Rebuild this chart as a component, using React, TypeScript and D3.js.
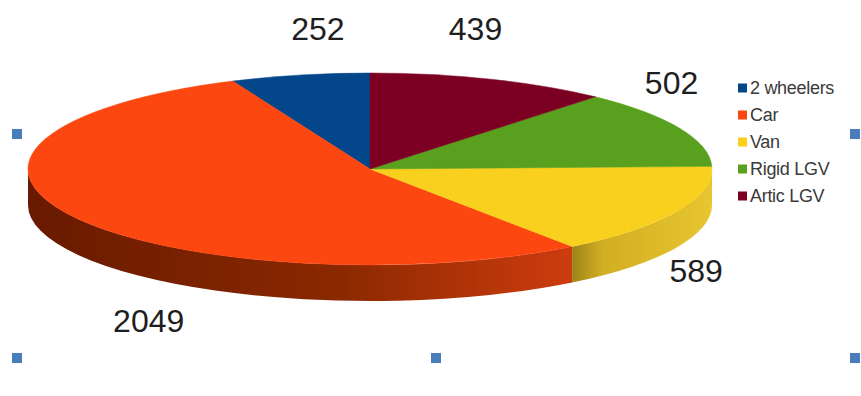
import React from "react";
import * as d3 from "d3";

const categories = ["2 wheelers", "Car", "Van", "Rigid LGV", "Artic LGV"];
const values = [252, 2049, 589, 502, 439];
const colors = ["#03478a", "#fc4711", "#f9d01e", "#58a01e", "#7b0022"];

const W = 861;
const H = 396;
const cx = 370;
const cy = 169;
const rx = 342;
const ry = 96;
const depth = 36;

// label nudges relative to slice mid-point on the rim (layout, not data)
const labelNudge: [number, number][] = [
  [18, -35],
  [75, 115],
  [19, 71],
  [-8, -34],
  [-15, -39],
];

function pt(a: number, dy = 0): [number, number] {
  return [cx + rx * Math.sin(a), cy - ry * Math.cos(a) + dy];
}

export default function App() {
  const pie = d3
    .pie<number>()
    .sort(null)
    .startAngle(0)
    .endAngle(-2 * Math.PI)
    .value((d) => d);
  const arcs = pie(values);

  const topPath = (a0: number, a1: number) => {
    const p0 = pt(a0);
    const p1 = pt(a1);
    const large = Math.abs(a1 - a0) > Math.PI ? 1 : 0;
    return `M${cx},${cy}L${p0[0]},${p0[1]}A${rx},${ry} 0 ${large} 0 ${p1[0]},${p1[1]}Z`;
  };

  const frontLo = -1.5 * Math.PI;
  const frontHi = -0.5 * Math.PI;
  const sides = arcs
    .map((a, i) => {
      const lo = Math.max(Math.min(a.startAngle, a.endAngle), frontLo);
      const hi = Math.min(Math.max(a.startAngle, a.endAngle), frontHi);
      if (hi <= lo) return null;
      const t1 = pt(hi);
      const t0 = pt(lo);
      const b0 = pt(lo, depth);
      const b1 = pt(hi, depth);
      const d = `M${t1[0]},${t1[1]}A${rx},${ry} 0 0 0 ${t0[0]},${t0[1]}L${b0[0]},${b0[1]}A${rx},${ry} 0 0 1 ${b1[0]},${b1[1]}Z`;
      return { d, i, lo, hi };
    })
    .filter(Boolean) as { d: string; i: number; lo: number; hi: number }[];

  const sideStops: Record<number, [number, string][]> = {
    1: [
      [0, "#681a00"],
      [0.45, "#8a2800"],
      [0.79, "#cc3c0e"],
    ],
    2: [
      [0.79, "#967f16"],
      [0.84, "#d2ae22"],
      [1, "#e8c630"],
    ],
  };

  const handleColor = "#4a7dbb";
  const frame = { x0: 17, x1: 855, ymid: 134, y1: 358 };
  const handles: [number, number][] = [
    [frame.x0, frame.ymid],
    [frame.x1, frame.ymid],
    [frame.x0, frame.y1],
    [(frame.x0 + frame.x1) / 2, frame.y1],
    [frame.x1, frame.y1],
  ];

  const legendX = 738;
  const legendY = 88;
  const legendStep = 27;

  return (
    <svg
      width={W}
      height={H}
      style={{ position: "absolute", left: 0, top: 0, background: "#fff" }}
      fontFamily="'Liberation Sans', Arial, sans-serif"
    >
      <defs>
        {sides.map((s) => (
          <linearGradient
            key={s.i}
            id={`side${s.i}`}
            gradientUnits="userSpaceOnUse"
            x1={cx - rx}
            x2={cx + rx}
            y1={0}
            y2={0}
          >
            {(sideStops[s.i] || [[0, colors[s.i]], [1, colors[s.i]]]).map(([o, c], k) => (
              <stop key={k} offset={o} stopColor={c} />
            ))}
          </linearGradient>
        ))}
      </defs>
      {sides.map((s) => (
        <path key={`s${s.i}`} d={s.d} fill={`url(#side${s.i})`} />
      ))}
      {arcs.map((a, i) => (
        <path key={`t${i}`} d={topPath(a.startAngle, a.endAngle)} fill={colors[i]} stroke={colors[i]} strokeWidth={0.5} />
      ))}
      {arcs.map((a, i) => {
        const mid = (a.startAngle + a.endAngle) / 2;
        const p = pt(mid);
        return (
          <text
            key={`l${i}`}
            x={p[0] + labelNudge[i][0]}
            y={p[1] + labelNudge[i][1]}
            textAnchor="middle"
            fontSize={32}
            fill="#1e1e1e"
          >
            {values[i]}
          </text>
        );
      })}
      {categories.map((c, i) => (
        <g key={`lg${i}`} transform={`translate(${legendX},${legendY + i * legendStep})`}>
          <rect x={0} y={-4.5} width={9} height={9} fill={colors[i]} />
          <text x={12} y={0} dy="0.35em" fontSize={18} fill="#3a3a3a" letterSpacing={-0.3}>
            {c}
          </text>
        </g>
      ))}
      {handles.map(([x, y], i) => (
        <rect key={`h${i}`} x={x - 5} y={y - 5} width={10} height={10} fill={handleColor} />
      ))}
    </svg>
  );
}
